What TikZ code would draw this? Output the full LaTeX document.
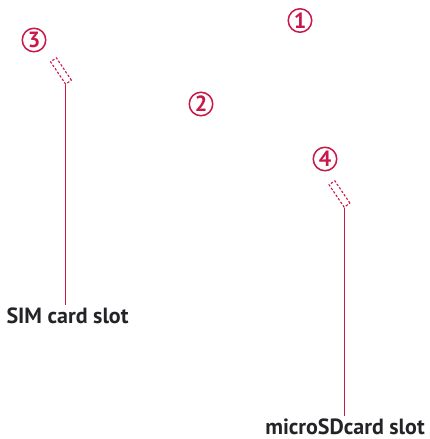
\documentclass[tikz,border=0pt]{standalone}
\usepackage{fontspec}
\setsansfont{PT Sans}
\usetikzlibrary{positioning}
\definecolor{LGRed}{RGB}{200,25,75}
\definecolor{LabelGray}{RGB}{35,35,40}

\tikzset{
  callout/.style={circle, draw=LGRed, line width=1.5pt, text=LGRed, minimum size=23.5pt, inner sep=0pt,
    font=\sffamily\bfseries\fontsize{22}{22}\selectfont},
  slotbox/.style={draw=LGRed, dashed, dash pattern=on 2.4pt off 1.8pt, line width=1.1pt,
    minimum width=27pt, minimum height=7pt, inner sep=0pt, rotate=-56},
  leader/.style={draw=LGRed, line width=0.9pt},
  caption/.style={text=LabelGray, anchor=base, inner sep=1pt,
    font=\sffamily\bfseries\fontsize{22}{24}\selectfont}
}

\begin{document}
\begin{tikzpicture}[x=1pt, y=-1pt]
  \useasboundingbox (0,0) rectangle (429,439);

  % numbered callouts
  \node[callout] (one) at (300,20.5) {1};
  \node[callout] (two) at (201,104) {2};
  \node[callout] (three) at (34,40) {3};
  \node[callout] (four) at (325,159) {4};

  % slots
  \node[slotbox] (sim) at (61,71) {};
  \node[slotbox] (sd) at (339.5,194) {};

  % labels
  \node[caption] (simlbl) at (67.5,323) {SIM card slot};
  \node[caption] (sdlbl) at (345,434) {microSDcard slot};

  \draw[leader] (sim.south east) -- ([yshift=1pt]sim.south east |- simlbl.north);
  \draw[leader] (sd.south east) -- ([yshift=1pt]sd.south east |- sdlbl.north);
\end{tikzpicture}
\end{document}
